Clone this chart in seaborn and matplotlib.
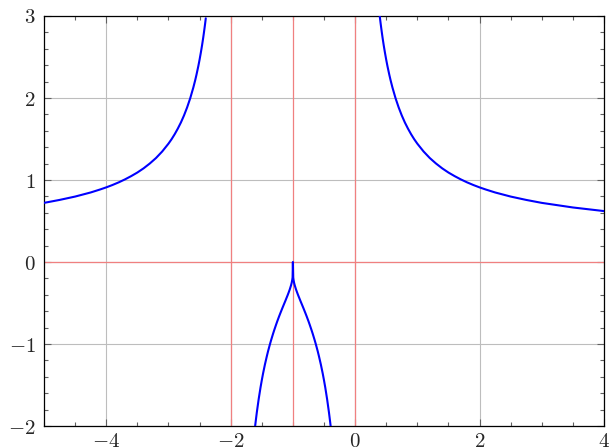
import matplotlib
matplotlib.use("Agg")
import matplotlib.pyplot as plt
import seaborn as sns
import pandas as pd
from matplotlib.ticker import MultipleLocator, FixedLocator, FixedFormatter

# ---- data ----
left_x = [-5.0, -4.75, -4.5, -4.25, -4.1, -4.0, -3.9, -3.8, -3.7, -3.6, -3.5, -3.4, -3.3,
          -3.2, -3.1, -3.0, -2.95, -2.9, -2.85, -2.8, -2.75, -2.7, -2.65, -2.6, -2.57,
          -2.55, -2.52, -2.5, -2.48, -2.47, -2.46, -2.45, -2.44, -2.43, -2.42, -2.41, -2.40]
left_y = [0.721, 0.757, 0.798, 0.848, 0.884, 0.910, 0.939, 0.971, 1.007, 1.047, 1.091, 1.142, 1.201,
          1.268, 1.348, 1.443, 1.497, 1.558, 1.626, 1.701, 1.787, 1.885, 1.997, 2.128, 2.217,
          2.282, 2.388, 2.466, 2.551, 2.596, 2.642, 2.691, 2.742, 2.796, 2.852, 2.910, 2.972]

mid_x = [-1.607, -1.6, -1.58, -1.55, -1.52, -1.5, -1.48, -1.45, -1.42, -1.4, -1.37, -1.35,
         -1.32, -1.3, -1.27, -1.25, -1.22, -1.2, -1.17, -1.15, -1.12, -1.1, -1.085, -1.07,
         -1.05, -1.03, -1.02, -1.01, -1.005, -1.0,
         -0.995, -0.99, -0.98, -0.97, -0.95, -0.93, -0.915, -0.9, -0.88, -0.85, -0.83, -0.8,
         -0.78, -0.75, -0.73, -0.7, -0.68, -0.65, -0.63, -0.6, -0.58, -0.55, -0.52, -0.5,
         -0.48, -0.45, -0.42, -0.4, -0.393]
mid_y = [-2.003, -1.958, -1.836, -1.673, -1.529, -1.443, -1.362, -1.252, -1.153, -1.091, -1.006, -0.953,
         -0.878, -0.831, -0.764, -0.721, -0.660, -0.621, -0.564, -0.527, -0.472, -0.434, -0.406, -0.376,
         -0.334, -0.285, -0.256, -0.217, -0.189, 0.0,
         -0.189, -0.217, -0.256, -0.285, -0.334, -0.376, -0.406, -0.434, -0.472, -0.527, -0.564, -0.621,
         -0.660, -0.721, -0.764, -0.831, -0.878, -0.953, -1.006, -1.091, -1.153, -1.252, -1.362, -1.443,
         -1.529, -1.673, -1.836, -1.958, -2.003]

right_x = [0.396, 0.40, 0.41, 0.42, 0.43, 0.44, 0.45, 0.46, 0.47, 0.48, 0.5, 0.52, 0.55, 0.57,
           0.6, 0.65, 0.7, 0.75, 0.8, 0.85, 0.9, 0.95, 1.0, 1.1, 1.2, 1.3, 1.4, 1.5, 1.6,
           1.7, 1.8, 1.9, 2.0, 2.1, 2.25, 2.5, 2.75, 3.0, 3.5, 4.0]
right_y = [2.998, 2.972, 2.910, 2.852, 2.796, 2.742, 2.691, 2.642, 2.596, 2.551, 2.466, 2.388, 2.282, 2.217,
           2.128, 1.997, 1.885, 1.787, 1.701, 1.626, 1.558, 1.497, 1.443, 1.348, 1.268, 1.201, 1.142, 1.091, 1.047,
           1.007, 0.971, 0.939, 0.910, 0.884, 0.848, 0.798, 0.757, 0.721, 0.665, 0.621]

red_vlines = [-2, -1, 0]
red_hlines = [0]

x_ticks = [-4, -2, 0, 2, 4]
y_ticks = [-2, -1, 0, 1, 2, 3]
x_lim = (-5, 4)
y_lim = (-2, 3)

df = pd.concat([
    pd.DataFrame({"x": left_x, "y": left_y, "branch": "left"}),
    pd.DataFrame({"x": mid_x, "y": mid_y, "branch": "mid"}),
    pd.DataFrame({"x": right_x, "y": right_y, "branch": "right"}),
], ignore_index=True)

sns.set_style("ticks")
plt.rcParams["mathtext.fontset"] = "cm"
plt.rcParams["font.family"] = ["DejaVu Serif"]

fig = plt.figure(figsize=(6.09, 4.48), dpi=100)
ax = fig.add_axes([44 / 609, 22 / 448, 560 / 609, 410 / 448])

ax.grid(True, which="major", color="#bdbdbd", linewidth=0.8, zorder=0)
ax.set_axisbelow(True)

for v in red_vlines:
    ax.axvline(v, color="#f08080", linewidth=0.9, zorder=1)
for h in red_hlines:
    ax.axhline(h, color="#f08080", linewidth=0.9, zorder=1)

sns.lineplot(data=df, x="x", y="y", units="branch", estimator=None, sort=False,
             color="#0000ff", linewidth=1.5, ax=ax, zorder=3)

ax.set_xlim(*x_lim)
ax.set_ylim(*y_lim)
ax.set_xlabel("")
ax.set_ylabel("")

ax.xaxis.set_major_locator(FixedLocator(x_ticks))
ax.xaxis.set_major_formatter(FixedFormatter([f"${t}$" for t in x_ticks]))
ax.yaxis.set_major_locator(FixedLocator(y_ticks))
ax.yaxis.set_major_formatter(FixedFormatter([f"${t}$" for t in y_ticks]))
ax.xaxis.set_minor_locator(MultipleLocator(0.5))
ax.yaxis.set_minor_locator(MultipleLocator(0.2))

ax.tick_params(which="both", direction="in", top=True, right=True, color="#606060",
               labelsize=15, width=0.8)
ax.tick_params(which="major", length=5)
ax.tick_params(axis="x", which="major", pad=4)
ax.tick_params(axis="y", which="major", pad=6)
ax.tick_params(which="minor", length=3)

for s in ax.spines.values():
    s.set_color("black")
    s.set_linewidth(0.9)
    s.set_visible(True)

fig.savefig("out.png", dpi=100)
